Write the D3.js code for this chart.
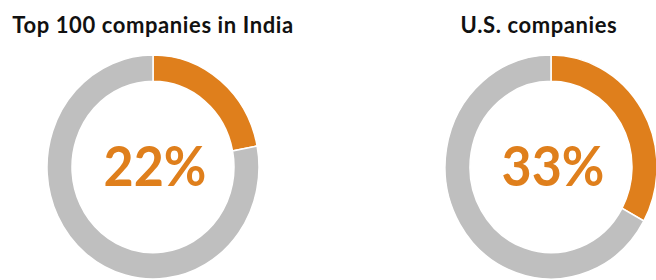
<!DOCTYPE html>
<html>
<head>
<meta charset="utf-8">
<script src="https://cdn.jsdelivr.net/npm/d3@7"></script>
<style>
    body { margin: 0; background: #fff; }
    .title { font-family: "Lato", sans-serif; font-weight: 700; font-size: 22px; letter-spacing: 0.6px; fill: #111; }
    .pct { font-family: "Lato", sans-serif; font-weight: 700; font-size: 52px; fill: #df7f1c; }
</style>
</head>
<body>
<div id="chart"></div>
<script>
// --------- DATA ---------
const groups = ["Top 100 companies in India", "U.S. companies"];
const shares = [22, 33];
const shareLabels = ["22%", "33%"];

const width = 656, height = 280;
const outerR = 106, innerR = 81;

let svg = d3.select("#chart")
    .append("svg")
    .attr("width", width)
    .attr("height", height);

// two donuts side by side
let xScale = d3.scalePoint()
    .domain(groups)
    .range([153, 551]);

let pie = d3.pie().sort(null).value(d => d);
let arc = d3.arc().innerRadius(innerR).outerRadius(outerR);
let colors = ["#df7f1c", "#bfbfbf"];

groups.forEach((g, i) => {
    let cx = xScale(g);

    svg.append("text")
        .attr("class", "title")
        .attr("x", i === 0 ? cx : cx - 12)
        .attr("y", 33)
        .attr("text-anchor", "middle")
        .text(g);

    // picture is a touch taller than wide
    let donut = svg.append("g")
        .attr("transform", "translate(" + cx + ",167) scale(1,1.057)");

    donut.selectAll("path")
        .data(pie([shares[i], 100 - shares[i]]))
        .join("path")
        .attr("d", arc)
        .attr("fill", (d, j) => colors[j])
        .attr("stroke", "#fff")
        .attr("stroke-width", 1.5);

    donut.append("text")
        .attr("class", "pct")
        .attr("x", 2)
        .attr("y", 18)
        .attr("text-anchor", "middle")
        .text(shareLabels[i]);
});
</script>
</body>
</html>
